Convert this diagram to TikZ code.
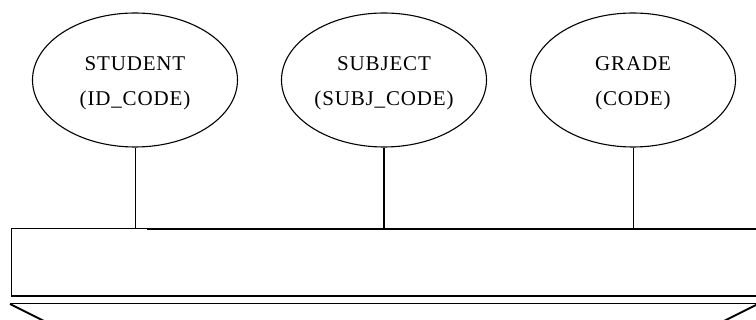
\documentclass[tikz,border=0pt]{standalone}
\usepackage{fontspec}
\setmainfont{Liberation Serif}
\usetikzlibrary{shapes.geometric}
\begin{document}
\begin{tikzpicture}[x=1pt,y=-1pt,
  ent/.style={draw, ellipse, line width=1.1pt, minimum width=205pt, minimum height=134pt,
    inner sep=0pt},
  txt/.style={align=center, inner sep=0pt, yshift=-3.5pt,
    font=\fontsize{21}{35}\selectfont\addfontfeature{LetterSpace=4}},
  thinline/.style={line width=1pt},
  thickline/.style={line width=2pt}]
\useasboundingbox (0,0) rectangle (756,320);
\clip (0,0) rectangle (756,320);
\node[ent, label={[txt]center:STUDENT\\(ID\_CODE)}] (st) at (135,80) {};
\node[ent, label={[txt]center:SUBJECT\\(SUBJ\_CODE)}] (su) at (384,80) {};
\node[ent, label={[txt]center:GRADE\\(CODE)}] (gr) at (633,80) {};
\coordinate (tl) at (11,229);
\coordinate (tm) at (147,229);
\coordinate (tr) at (762,229);
\coordinate (bl) at (11,296);
\coordinate (br) at (762,296);
\coordinate (ll) at (10,304);
\coordinate (lr) at (762,304);
\coordinate (dl) at (50,324);
\coordinate (rr) at (757,304.5);
\coordinate (dr) at (718,324);
\draw[thinline] (st.south) -- (st.south |- tl);
\draw[thickline] (su.south) -- (su.south |- tl);
\draw[thinline] (gr.south) -- (gr.south |- tl);
\draw[thinline] (tl) -- (tm);
\draw[thickline] (tm) -- (tr);
\draw[thinline] (tl) -- (bl);
\draw[thickline] (bl) -- (br);
\draw[thinline] (ll) -- (lr);
\draw[thickline] (ll) -- (dl);
\draw[thickline] (rr) -- (dr);
\end{tikzpicture}
\end{document}
